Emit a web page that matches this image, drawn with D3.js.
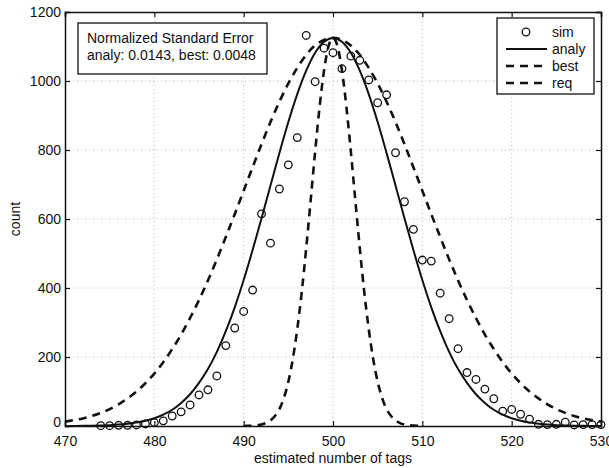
<!DOCTYPE html>
<html>
<head>
<meta charset="utf-8">
<script src="https://cdn.jsdelivr.net/npm/d3@7"></script>
<style>
  body { margin: 0; background: #ffffff; }
  text { font-family: "Liberation Sans", Arial, sans-serif; fill: #111; }
</style>
</head>
<body>
<svg id="chart" width="609" height="468"></svg>
<script>
// ---- data ----
const xTicks = [470, 480, 490, 500, 510, 520, 530];
const yTicks = [0, 200, 400, 600, 800, 1000, 1200];

const simX = [474,475,476,477,478,479,480,481,482,483,484,485,486,487,488,489,490,491,492,493,494,495,496,497,498,499,500,501,502,503,504,505,506,507,508,509,510,511,512,513,514,515,516,517,518,519,520,521,522,523,524,525,526,527,528,529,530];
const simY = [1,1,2,2,3,6,10,15,29,41,61,90,105,145,233,284,332,394,615,530,687,757,836,1132,998,1095,1082,1036,1072,1060,1003,937,960,792,650,570,481,478,385,311,224,155,135,107,79,43,48,34,20,5,4,5,11,3,4,4,4];

const analyX = [470,471,472,473,474,475,476,477,478,479,480,481,482,483,484,485,486,487,488,489,490,491,492,493,494,495,496,497,498,499,500,501,502,503,504,505,506,507,508,509,510,511,512,513,514,515,516,517,518,519,520,521,522,523,524,525,526,527,528,529,530];
const analyY = [0.15,0.3,0.5,0.9,1.5,2.5,4,6.4,9.9,15,22.5,33,47,67,92,125,165,215,275,344,423,510,602,697,791,881,962,1030,1082,1114,1125,1114,1082,1030,962,881,791,697,602,510,423,344,275,215,165,125,92,67,47,33,22.5,15,9.9,6.4,4,2.5,1.5,0.9,0.5,0.3,0.15];

const bestX = [490,490.5,491,491.5,492,492.5,493,493.5,494,494.5,495,495.5,496,496.5,497,497.5,498,498.5,499,499.5,500,500.5,501,501.5,502,502.5,503,503.5,504,504.5,505,505.5,506,506.5,507,507.5,508,508.5,509,509.5,510];
const bestY = [0.2,0.4,1.0,2.1,4.4,8.5,16,29,49,81,128,194,281,388,515,654,795,925,1031,1101,1125,1101,1031,925,795,654,515,388,281,194,128,81,49,29,16,8.5,4.4,2.1,1.0,0.4,0.2];

const reqX = analyX;
const reqY = [12.5,17,22,29,38,49,63,80,100,124,152,185,223,265,313,365,422,483,548,614,682,750,817,881,940,993,1038,1076,1103,1119,1125,1119,1103,1076,1038,993,940,881,817,750,682,614,548,483,422,365,313,265,223,185,152,124,100,80,63,49,38,29,22,17,12.5];

const legendLabels = ["sim", "analy", "best", "req"];
const noteLines = ["Normalized Standard Error", "analy: 0.0143, best: 0.0048"];
const xLabel = "estimated number of tags";
const yLabel = "count";

// ---- layout ----
const svg = d3.select("#chart");
const m = {left: 65, right: 8, top: 12, bottom: 42};
const W = 609, H = 468;
const x = d3.scaleLinear().domain([470, 530]).range([m.left, W - m.right]);
const y = d3.scaleLinear().domain([0, 1200]).range([H - m.bottom, m.top]);

// grid
const grid = svg.append("g");
grid.selectAll("line.gx").data(xTicks.slice(1, -1)).join("line")
  .attr("x1", d => x(d)).attr("x2", d => x(d))
  .attr("y1", y(0)).attr("y2", y(1200))
  .attr("stroke", "#b8b8b8").attr("stroke-width", 1).attr("stroke-dasharray", "1,3");
grid.selectAll("line.gy").data(yTicks.slice(1, -1)).join("line")
  .attr("x1", x(470)).attr("x2", x(530))
  .attr("y1", d => y(d)).attr("y2", d => y(d))
  .attr("stroke", "#b8b8b8").attr("stroke-width", 1).attr("stroke-dasharray", "1,3");

// axes (inward ticks, box)
const tickLen = 5;
const axB = svg.append("g").attr("transform", `translate(0,${y(0)})`)
  .call(d3.axisBottom(x).tickValues(xTicks).tickSize(-tickLen).tickPadding(10).tickFormat(d3.format("d")));
const axL = svg.append("g").attr("transform", `translate(${x(470)},0)`)
  .call(d3.axisLeft(y).tickValues(yTicks).tickSize(-tickLen).tickPadding(4).tickFormat(d3.format("d")));
const axT = svg.append("g").attr("transform", `translate(0,${y(1200)})`)
  .call(d3.axisTop(x).tickValues(xTicks).tickSize(-tickLen).tickFormat(""));
const axR = svg.append("g").attr("transform", `translate(${x(530)},0)`)
  .call(d3.axisRight(y).tickValues(yTicks).tickSize(-tickLen).tickFormat(""));
[axB, axL, axT, axR].forEach(a => {
  a.select(".domain").attr("stroke", "#111").attr("stroke-width", 1.5);
  a.selectAll(".tick line").attr("stroke", "#111").attr("stroke-width", 1.2);
  a.selectAll("text").attr("font-size", 14).attr("fill", "#111")
    .attr("font-family", "'Liberation Sans', Arial, sans-serif");
});
// lift the "0" label slightly so it clears the "470" label
axL.selectAll(".tick text").filter(d => d === 0).attr("dy", "0.05em");

// curves
const line = d3.line().x(d => x(d[0])).y(d => y(d[1])).curve(d3.curveMonotoneX);
const clip = svg.append("clipPath").attr("id", "clip").append("rect")
  .attr("x", x(470)).attr("y", y(1200)).attr("width", x(530) - x(470)).attr("height", y(0) - y(1200));
const plot = svg.append("g").attr("clip-path", "url(#clip)");

plot.append("path").datum(d3.zip(reqX, reqY)).attr("d", line)
  .attr("fill", "none").attr("stroke", "#111").attr("stroke-width", 2.6).attr("stroke-dasharray", "8,6");
plot.append("path").datum(d3.zip(bestX, bestY)).attr("d", line)
  .attr("fill", "none").attr("stroke", "#111").attr("stroke-width", 2.6).attr("stroke-dasharray", "8,6");
plot.append("path").datum(d3.zip(analyX, analyY)).attr("d", line)
  .attr("fill", "none").attr("stroke", "#111").attr("stroke-width", 2);

svg.append("g").selectAll("circle").data(d3.zip(simX, simY)).join("circle")
  .attr("cx", d => x(d[0])).attr("cy", d => y(d[1])).attr("r", 3.8)
  .attr("fill", "none").attr("stroke", "#111").attr("stroke-width", 1.3);

// axis labels
svg.append("text").attr("x", (x(470) + x(530)) / 2).attr("y", 463)
  .attr("text-anchor", "middle").attr("font-size", 14).text(xLabel);
svg.append("text").attr("transform", `translate(20,${(y(0) + y(1200)) / 2}) rotate(-90)`)
  .attr("text-anchor", "middle").attr("font-size", 14).text(yLabel);

// annotation box
const note = svg.append("g");
note.append("rect").attr("x", 78).attr("y", 23).attr("width", 189).attr("height", 51)
  .attr("fill", "#fff").attr("stroke", "#111").attr("stroke-width", 1.3);
note.selectAll("text").data(noteLines).join("text")
  .attr("x", 87).attr("y", (d, i) => 43 + i * 17).attr("font-size", 14).text(d => d);

// legend
const lg = svg.append("g");
lg.append("rect").attr("x", 497).attr("y", 18).attr("width", 97).attr("height", 76)
  .attr("fill", "#fff").attr("stroke", "#111").attr("stroke-width", 1.3);
const ly = [32, 49, 66, 83];
lg.append("circle").attr("cx", 526).attr("cy", ly[0]).attr("r", 3.8)
  .attr("fill", "none").attr("stroke", "#111").attr("stroke-width", 1.3);
lg.append("line").attr("x1", 506).attr("x2", 547).attr("y1", ly[1]).attr("y2", ly[1])
  .attr("stroke", "#111").attr("stroke-width", 2);
[2, 3].forEach(i => lg.append("line").attr("x1", 506).attr("x2", 548).attr("y1", ly[i]).attr("y2", ly[i])
  .attr("stroke", "#111").attr("stroke-width", 2.6).attr("stroke-dasharray", "8,6"));
lg.selectAll("text").data(legendLabels).join("text")
  .attr("x", 552).attr("y", (d, i) => ly[i] + 5).attr("font-size", 14).text(d => d);
</script>
</body>
</html>
